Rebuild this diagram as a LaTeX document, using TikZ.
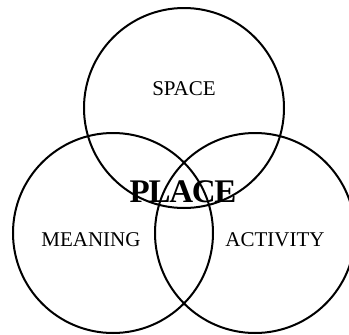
\documentclass[tikz,border=0pt]{standalone}
\usepackage{fontspec}
\setmainfont{Liberation Serif}
\begin{document}
\begin{tikzpicture}[x=1pt,y=-1pt,
  ring/.style={circle,draw=black,line width=2pt,minimum size=200pt,inner sep=0pt},
  lbl/.style={font=\fontsize{21}{23}\selectfont,inner sep=0pt}]
\useasboundingbox (0,0) rectangle (349,335);
\node[ring] (space) at (184,108) {};
\node[ring] (meaning) at (113,233) {};
\node[ring] (activity) at (255,233) {};
\node[lbl] (tspace) at (184,89) {SPACE};
\node[lbl] (tmeaning) at (91,240) {MEANING};
\node[lbl] (tactivity) at (275,240) {ACTIVITY};
\node[font=\fontsize{33}{35}\selectfont\bfseries,inner sep=0pt] (place) at (183,192) {\addfontfeatures{LetterSpace=-4}PLACE};
\end{tikzpicture}
\end{document}
